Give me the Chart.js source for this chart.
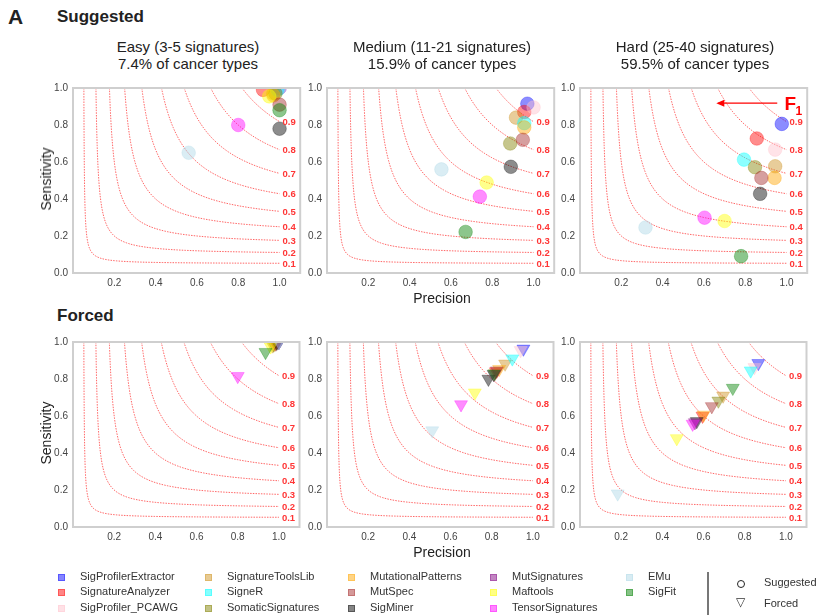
<!DOCTYPE html>
<html>
<head>
<meta charset="utf-8">
<script src="https://cdn.jsdelivr.net/npm/chart.js@4.4.0/dist/chart.umd.min.js"></script>
<style>
  body { margin: 0; width: 818px; height: 615px; background: #fff; position: relative; overflow: hidden;
         font-family: Arial, "Liberation Sans", sans-serif; color: #222; }
  .abs { position: absolute; white-space: nowrap; }
  .title { font-size: 15px; line-height: 17px; text-align: center; transform: translateX(-50%); }
  .axis { font-size: 14px; }
  .head { font-weight: bold; font-size: 17px; }
  .leg { font-size: 11px; color: #333; }
  .sw { position: absolute; width: 7px; height: 7px; }
  canvas { position: absolute; }
</style>
</head>
<body>
<div class="abs" style="left:8px;top:5px;font-weight:bold;font-size:21px;">A</div>
<div class="abs head" style="left:57px;top:7px;">Suggested</div>
<div class="abs head" style="left:57px;top:306px;">Forced</div>

<div id="root"></div>

<script>
// Methods and their colours
const methods = ['SigProfilerExtractor', 'SignatureAnalyzer', 'SigProfiler_PCAWG', 'SignatureToolsLib',
  'SigneR', 'SomaticSignatures', 'MutationalPatterns', 'MutSpec', 'SigMiner', 'MutSignatures',
  'Maftools', 'TensorSignatures', 'EMu', 'SigFit'];
const methodRgb = ['0,0,255', '255,0,0', '255,192,203', '205,145,30', '0,255,255', '128,128,0',
  '255,165,0', '165,42,42', '0,0,0', '128,0,128', '255,255,0', '255,0,255', '173,216,230', '0,128,0'];

// F1 contour levels and tick labels
const f1Levels = [0.1, 0.2, 0.3, 0.4, 0.5, 0.6, 0.7, 0.8, 0.9];
const xTicks = [0.2, 0.4, 0.6, 0.8, 1.0];
const yTicks = [0.0, 0.2, 0.4, 0.6, 0.8, 1.0];

// Suggested: precision / sensitivity per method (MutSignatures has no suggested point)
const easySugPrec = [1.00, 0.92, 1.00, 0.97, 0.99, 0.98, 0.97, 1.00, 1.00, null, 0.95, 0.80, 0.56, 1.00];
const easySugSens = [1.00, 0.99, 1.00, 0.97, 0.99, 0.97, 0.96, 0.91, 0.78, null, 0.955, 0.80, 0.65, 0.88];
const medSugPrec = [0.97, 0.955, 1.00, 0.915, 0.955, 0.887, 0.955, 0.948, 0.89, null, 0.773, 0.74, 0.554, 0.671];
const medSugSens = [0.915, 0.87, 0.895, 0.84, 0.81, 0.70, 0.787, 0.72, 0.574, null, 0.489, 0.413, 0.56, 0.222];
const hardSugPrec = [0.977, 0.856, 0.945, 0.945, 0.794, 0.847, 0.942, 0.878, 0.872, null, 0.70, 0.603, 0.317, 0.78];
const hardSugSens = [0.806, 0.727, 0.667, 0.577, 0.613, 0.572, 0.514, 0.514, 0.428, null, 0.281, 0.299, 0.246, 0.091];

// Forced: precision / sensitivity per method
const easyForPrec = [1.00, 1.00, 1.00, 0.97, 1.00, 0.975, 0.98, 0.985, 0.99, 1.00, 0.96, 0.80, 1.00, 0.935];
const easyForSens = [1.00, 1.00, 1.00, 0.98, 1.00, 0.985, 0.99, 0.99, 0.995, 1.00, 0.975, 0.815, 1.00, 0.945];
const medForPrec = [0.954, 0.82, 0.94, 0.865, 0.90, 0.815, 0.836, 0.825, 0.784, 0.81, 0.718, 0.651, 0.511, 0.81];
const medForSens = [0.963, 0.84, 0.955, 0.882, 0.91, 0.83, 0.853, 0.845, 0.80, 0.825, 0.726, 0.662, 0.521, 0.827];
const hardForPrec = [0.866, 0.595, 0.847, 0.695, 0.829, 0.672, 0.60, 0.64, 0.567, 0.558, 0.47, 0.547, 0.183, 0.742];
const hardForSens = [0.885, 0.60, 0.863, 0.709, 0.845, 0.682, 0.606, 0.652, 0.571, 0.565, 0.479, 0.557, 0.18, 0.751];

const panels = [
  { left: 73, top: 85, prec: easySugPrec, sens: easySugSens, forced: false, t1: 'Easy (3-5 signatures)', t2: '7.4% of cancer types' },
  { left: 327, top: 85, prec: medSugPrec, sens: medSugSens, forced: false, t1: 'Medium (11-21 signatures)', t2: '15.9% of cancer types' },
  { left: 580, top: 85, prec: hardSugPrec, sens: hardSugSens, forced: false, t1: 'Hard (25-40 signatures)', t2: '59.5% of cancer types', arrow: true },
  { left: 73, top: 339, prec: easyForPrec, sens: easyForSens, forced: true },
  { left: 327, top: 339, prec: medForPrec, sens: medForSens, forced: true },
  { left: 580, top: 339, prec: hardForPrec, sens: hardForSens, forced: true }
];

const AREA_W = 230, AREA_H = 188, YAX = 30, XAX = 22, PAD_T = 8, PAD_R = 5;
const root = document.getElementById('root');

function addText(cls, style, text) {
  const d = document.createElement('div');
  d.className = 'abs ' + cls;
  d.setAttribute('style', style);
  d.innerHTML = text;
  root.appendChild(d);
}

// iso-F1 curve: sensitivity as a function of precision
function f1Curve(f) {
  const pts = [];
  const pMin = f / (2 - f);
  for (let i = 0; i <= 80; i++) {
    const u = i / 80;
    const p = pMin + (1 - pMin) * u * u * u;
    const s = Math.min(1, f * p / (2 * p - f));
    pts.push({ x: p, y: s });
  }
  return pts;
}

// frame, contour labels and F1 arrow
const decorPlugin = {
  id: 'decor',
  afterDatasetsDraw(chart, args, opts) {
    const { ctx, chartArea: a, scales } = chart;
    ctx.save();
    ctx.strokeStyle = '#cfcfcf';
    ctx.lineWidth = 2;
    ctx.strokeRect(a.left, a.top, a.right - a.left, a.bottom - a.top);
    ctx.fillStyle = '#ff3535';
    ctx.font = 'bold 9.5px Arial, "Liberation Sans", sans-serif';
    ctx.textAlign = 'left';
    ctx.textBaseline = 'middle';
    f1Levels.forEach(f => {
      const yEnd = f / (2 - f);
      ctx.fillText(f.toFixed(1), scales.x.getPixelForValue(1.0) + 3, scales.y.getPixelForValue(yEnd) + 1);
    });
    if (opts.arrow) {
      const y = scales.y.getPixelForValue(0.918);
      const x1 = scales.x.getPixelForValue(0.955), x0 = scales.x.getPixelForValue(0.66);
      ctx.strokeStyle = '#ff0000';
      ctx.lineWidth = 1.3;
      ctx.beginPath();
      ctx.moveTo(x1, y); ctx.lineTo(x0 + 2, y); ctx.stroke();
      ctx.fillStyle = '#ff0000';
      ctx.beginPath();
      ctx.moveTo(x0, y); ctx.lineTo(x0 + 8, y - 3.5); ctx.lineTo(x0 + 8, y + 3.5); ctx.closePath(); ctx.fill();
      ctx.font = 'bold 19px Arial, "Liberation Sans", sans-serif';
      ctx.textBaseline = 'alphabetic';
      const fx = scales.x.getPixelForValue(0.99);
      ctx.fillText('F', fx, y + 7);
      ctx.font = 'bold 12px Arial, "Liberation Sans", sans-serif';
      ctx.fillText('1', fx + 11, y + 12);
    }
    ctx.restore();
  }
};

panels.forEach((p, idx) => {
  const cv = document.createElement('canvas');
  const w = YAX + AREA_W + PAD_R, h = PAD_T + AREA_H + XAX;
  cv.width = w; cv.height = h;
  cv.style.left = (p.left - YAX) + 'px';
  cv.style.top = (p.top - PAD_T) + 'px';
  root.appendChild(cv);

  const datasets = [{
    data: p.prec.map((v, i) => ({ x: v, y: p.sens[i] })),
    pointStyle: p.forced ? 'triangle' : 'circle',
    rotation: p.forced ? 180 : 0,
    pointRadius: p.forced ? 7.5 : 6.8,
    pointBackgroundColor: methodRgb.map(c => `rgba(${c},0.45)`),
    pointBorderColor: methodRgb.map(c => `rgba(${c},0.3)`),
    pointBorderWidth: 1,
    showLine: false,
    clip: 0,
    order: 0
  }];
  f1Levels.forEach(f => datasets.push({
    data: f1Curve(f),
    showLine: true,
    pointRadius: 0,
    borderColor: 'rgba(255,0,0,0.6)',
    borderWidth: 1,
    borderDash: [1.5, 1.2],
    tension: 0,
    order: 1
  }));

  new Chart(cv, {
    type: 'scatter',
    data: { datasets },
    options: {
      responsive: false,
      animation: false,
      events: [],
      layout: { padding: { top: PAD_T, right: PAD_R, left: 0, bottom: 0 } },
      plugins: { legend: { display: false }, tooltip: { enabled: false }, decor: { arrow: !!p.arrow } },
      scales: {
        x: {
          type: 'linear', min: 0, max: 1.1,
          grid: { display: false, drawTicks: false }, border: { display: false },
          afterBuildTicks: s => { s.ticks = xTicks.map(v => ({ value: v })); },
          afterFit: s => { s.height = XAX; },
          ticks: { font: { size: 10, family: 'Arial, "Liberation Sans", sans-serif' }, color: '#444', padding: 4,
                   maxRotation: 0, callback: v => Number(v).toFixed(1) }
        },
        y: {
          type: 'linear', min: 0, max: 1,
          grid: { display: false, drawTicks: false }, border: { display: false },
          afterBuildTicks: s => { s.ticks = yTicks.map(v => ({ value: v })); },
          afterFit: s => { s.width = YAX; },
          ticks: { font: { size: 10, family: 'Arial, "Liberation Sans", sans-serif' }, color: '#444', padding: 5,
                   callback: v => Number(v).toFixed(1) }
        }
      }
    },
    plugins: [decorPlugin]
  });

  const cx = p.left + AREA_W / 2;
  if (p.t1) {
    addText('title', `left:${cx}px;top:38px;`, p.t1 + '<br>' + p.t2);
  }
  if (idx % 3 === 0) {
    addText('axis', `left:${p.left - 27}px;top:${p.top + AREA_H / 2}px;transform:translate(-50%,-50%) rotate(-90deg);`, 'Sensitivity');
  }
  if (idx % 3 === 1) {
    addText('axis', `left:${cx}px;top:${p.top + AREA_H + 17}px;transform:translateX(-50%);`, 'Precision');
  }
});

// legend
const legCols = [[0, 1, 2], [3, 4, 5], [6, 7, 8], [9, 10, 11], [12, 13]];
const legX = [61, 208, 351, 493, 629];
const legY = [577, 592, 608];
legCols.forEach((col, ci) => {
  col.forEach((m, ri) => {
    const sw = document.createElement('div');
    sw.className = 'sw';
    sw.style.left = (legX[ci] - 3.5) + 'px';
    sw.style.top = (legY[ri] - 3.5) + 'px';
    sw.style.background = `rgba(${methodRgb[m]},0.48)`;
    sw.style.border = `1px solid rgba(${methodRgb[m]},0.35)`;
    sw.style.boxSizing = 'border-box';
    root.appendChild(sw);
    addText('leg', `left:${legX[ci] + 19}px;top:${legY[ri] - 7}px;`, methods[m]);
  });
});
addText('', 'left:707px;top:572px;width:1.5px;height:43px;background:#777;', '');
addText('', 'left:737px;top:580px;width:6px;height:6px;border:1.4px solid #222;border-radius:50%;', '');
addText('leg', 'left:764px;top:576px;', 'Suggested');
addText('leg', 'left:736px;top:595px;font-size:12px;', '&#9661;');
addText('leg', 'left:764px;top:597px;', 'Forced');
</script>
</body>
</html>
